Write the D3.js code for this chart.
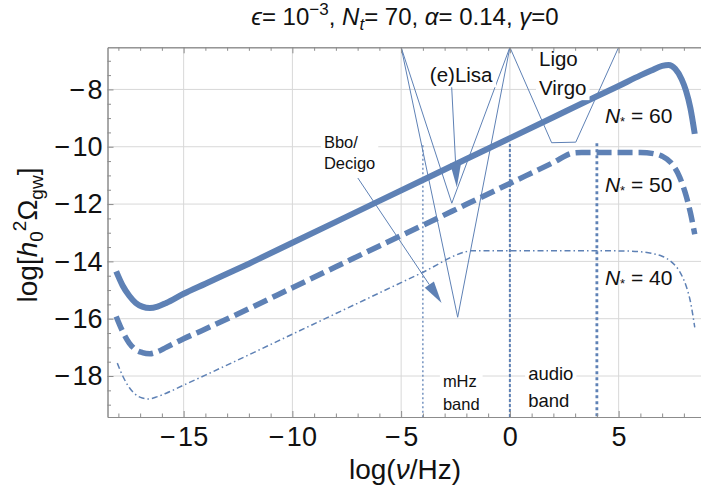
<!DOCTYPE html>
<html><head><meta charset="utf-8">
<script src="https://cdn.jsdelivr.net/npm/d3@7"></script>
<style>
html,body{margin:0;padding:0;background:#fff;}
svg{display:block;font-family:"Liberation Sans",Arial,sans-serif;}
text{white-space:pre;}
</style></head><body>
<svg id="chart" width="701" height="493"></svg>
<script>
// Gravitational-wave spectra: [log10(nu/Hz), log10(h0^2 Omega_gw)]
const spectrumN60 = [[-18.1,-14.35],[-17.8,-14.85],[-17.5,-15.2],[-17.2,-15.45],[-16.9,-15.58],[-16.55,-15.63],[-16.2,-15.58],[-15.8,-15.45],[-15,-15.13],[-14,-14.78],[-12,-14.08],[-10,-13.35],[-8,-12.62],[-6,-11.89],[-4,-11.16],[-2,-10.43],[0,-9.70],[2,-8.97],[4,-8.24],[5,-7.88],[6,-7.51],[6.5,-7.34],[7.0,-7.18],[7.3,-7.15],[7.6,-7.28],[7.9,-7.65],[8.1,-8.05],[8.3,-8.65],[8.5,-9.55]];
const spectrumN50 = [[-18.1,-15.92],[-17.8,-16.45],[-17.5,-16.85],[-17.2,-17.08],[-16.9,-17.18],[-16.55,-17.22],[-16.2,-17.15],[-15.8,-17.0],[-15,-16.7],[-14,-16.36],[-12,-15.65],[-10,-14.92],[-8,-14.19],[-6,-13.46],[-4,-12.74],[-2,-12.01],[0,-11.28],[2,-10.55],[2.9,-10.22],[3.3,-10.2],[5,-10.2],[6,-10.2],[6.6,-10.24],[7.0,-10.33],[7.4,-10.55],[7.8,-11.05],[8.1,-11.7],[8.3,-12.3],[8.5,-13.05]];
const spectrumN40 = [[-18.05,-17.55],[-17.8,-18.0],[-17.5,-18.4],[-17.2,-18.65],[-16.9,-18.77],[-16.6,-18.8],[-16.2,-18.72],[-15.8,-18.6],[-15,-18.32],[-14,-17.97],[-12,-17.26],[-10,-16.54],[-8,-15.82],[-6,-15.1],[-4,-14.38],[-2,-13.66],[-1.8,-13.63],[0,-13.63],[2,-13.63],[4,-13.63],[5.5,-13.64],[6.5,-13.72],[7.0,-13.82],[7.4,-14.0],[7.8,-14.35],[8.1,-14.85],[8.3,-15.4],[8.5,-16.3]];
const efoldNumbers = ["60", "50", "40"];

const xTicks = [-15, -10, -5, 0, 5];
const yTicks = [-18, -16, -14, -12, -10, -8];
const xMinorTicks = d3.range(-18, 9, 1).filter(v => v % 5 !== 0);
const yMinorTicks = d3.range(-19, -6.5, 0.5).filter(v => v % 2 !== 0);

// Detector sensitivity outlines (same axes as the spectra)
const lisaOutline = [[-5,-6.53],[-2.67,-11.97],[0,-6.53]];
const bboOutline  = [[-5,-6.53],[-2.4,-15.95],[0,-6.53]];
const ligoOutline = [[0,-6.53],[1.92,-9.86],[3.03,-9.84],[5,-6.53]];
const lisaPointer = [[-2.68,-7.85],[-2.44,-11.41]];
const bboPointer  = [[-6.99,-11.09],[-3.14,-15.45]];

// Frequency band edges and where their markers start
const bandEdges = [-4, 0, 4];
const bandEdgeTops = [-9.95, -9.9, -9.88];

const svg = d3.select("#chart");
const blue = "#5e81b5";
const x = d3.scaleLinear().domain([-18.5, 8.9]).range([107.5, 703.45]);
const y = d3.scaleLinear().domain([-19.43, -6.53]).range([417, 47.3]);
const [x0, x1] = x.range();
const [y0, y1] = y.range();

svg.append("defs").append("clipPath").attr("id", "plotClip")
  .append("rect").attr("x", x0).attr("y", y1).attr("width", x1 - x0).attr("height", y0 - y1);

// grid
const grid = svg.append("g").attr("stroke", "#d8d8d8").attr("stroke-width", 1);
grid.selectAll(".gx").data(xTicks).join("line")
  .attr("x1", d => x(d)).attr("x2", d => x(d)).attr("y1", y0).attr("y2", y1);
grid.selectAll(".gy").data(yTicks).join("line")
  .attr("x1", x0).attr("x2", x1).attr("y1", d => y(d)).attr("y2", d => y(d));

const plot = svg.append("g").attr("clip-path", "url(#plotClip)");

// band edge markers
const edgeStyles = [{w: 1.3, dash: "2,2.5"}, {w: 2, dash: "3,2"}, {w: 2.8, dash: "3,3"}];
plot.selectAll(".edge").data(bandEdges).join("line")
  .attr("x1", d => x(d)).attr("x2", d => x(d))
  .attr("y1", (d, i) => y(bandEdgeTops[i])).attr("y2", y0)
  .attr("stroke", blue)
  .attr("stroke-width", (d, i) => edgeStyles[i].w)
  .attr("stroke-dasharray", (d, i) => edgeStyles[i].dash);

// spectra
const line = d3.line().x(d => x(d[0])).y(d => y(d[1])).curve(d3.curveMonotoneX);
const spectra = [spectrumN60, spectrumN50, spectrumN40];
const specStyles = [{w: 6, dash: null}, {w: 5.5, dash: "15,6"}, {w: 1.5, dash: "6,3,1.5,3"}];
plot.selectAll(".spec").data(spectra).join("path")
  .attr("d", line)
  .attr("fill", "none")
  .attr("stroke", blue)
  .attr("stroke-width", (d, i) => specStyles[i].w)
  .attr("stroke-dasharray", (d, i) => specStyles[i].dash)
  .attr("stroke-linejoin", "round");

// sensitivity outlines
const outline = d3.line().x(d => x(d[0])).y(d => y(d[1]));
plot.selectAll(".det").data([lisaOutline, bboOutline, ligoOutline]).join("path")
  .attr("d", outline).attr("fill", "none").attr("stroke", blue).attr("stroke-width", 1);

// pointers with filled heads
function pointer(pts, len, half) {
  const p0 = [x(pts[0][0]), y(pts[0][1])], p1 = [x(pts[1][0]), y(pts[1][1])];
  const dx = p1[0] - p0[0], dy = p1[1] - p0[1], L = Math.hypot(dx, dy);
  const ux = dx / L, uy = dy / L;
  const bx = p1[0] - ux * len, by = p1[1] - uy * len;
  plot.append("line").attr("x1", p0[0]).attr("y1", p0[1]).attr("x2", bx).attr("y2", by)
    .attr("stroke", blue).attr("stroke-width", 1);
  plot.append("polygon")
    .attr("points", [[p1[0], p1[1]], [bx - uy * half, by + ux * half], [bx + uy * half, by - ux * half]].map(p => p.join(",")).join(" "))
    .attr("fill", blue);
}
pointer(lisaPointer, 24, 5.5);
pointer(bboPointer, 22, 5.5);

// rich text helper
function rich(sel, parts) {
  parts.forEach(p => {
    const t = sel.append("tspan").text(p.t);
    if (p.i) t.attr("font-style", "italic");
    if (p.s) t.attr("font-size", p.s);
    if (p.dy) t.attr("dy", p.dy);
  });
  return sel;
}

// boxed annotation labels
function boxedLabel(lines, xv, yvs, size) {
  const g = svg.append("g");
  const bg = g.append("rect").attr("fill", "#fff");
  const tg = g.append("g");
  lines.forEach((s, i) => {
    tg.append("text").attr("x", x(xv)).attr("y", y(yvs[i])).attr("font-size", size).attr("fill", "#111").text(s);
  });
  const b = tg.node().getBBox();
  bg.attr("x", b.x - 3).attr("y", b.y - 1).attr("width", b.width + 6).attr("height", b.height + 2);
}
boxedLabel(["Ligo", "Virgo"], 1.34, [-7.18, -8.2], 20.5);
boxedLabel(["(e)Lisa"], -3.68, [-7.75], 20.5);
boxedLabel(["Bbo/", "Decigo"], -8.55, [-10.06, -10.79], 16.5);
boxedLabel(["mHz", "band"], -3.08, [-18.37, -19.19], 16.5);
boxedLabel(["audio", "band"], 0.84, [-18.14, -19.07], 18.5);

// N_* labels
const nLabelY = [-9.17, -11.57, -14.82];
efoldNumbers.forEach((n, i) => {
  rich(svg.append("text").attr("x", x(4.37)).attr("y", y(nLabelY[i])).attr("font-size", 21).attr("fill", "#111"),
    [{t: "N", i: 1}, {t: "*", s: 13, dy: 3}, {t: " = " + n, dy: -3}]);
});

// frame and ticks
const minus = s => String(s).replace("-", "\u2212\u200a");
const frameColor = "#8c8c8c";
function styleAxis(g) {
  g.select(".domain").attr("stroke", frameColor);
  g.selectAll(".tick line").attr("stroke", frameColor);
  g.selectAll(".tick text").attr("fill", "#111").attr("font-size", 27).attr("font-family", "Liberation Sans, Arial, sans-serif");
}
svg.append("g").attr("transform", `translate(0,${y0})`)
  .call(d3.axisBottom(x).tickValues(xTicks).tickSize(-6).tickSizeOuter(0).tickPadding(10).tickFormat(minus))
  .call(styleAxis);
svg.append("g").attr("transform", `translate(0,${y0})`)
  .call(d3.axisBottom(x).tickValues(xMinorTicks).tickSize(-3.5).tickSizeOuter(0).tickFormat(""))
  .call(styleAxis);
svg.append("g").attr("transform", `translate(0,${y1})`)
  .call(d3.axisTop(x).tickValues(xTicks).tickSize(-6).tickSizeOuter(0).tickFormat(""))
  .call(styleAxis);
svg.append("g").attr("transform", `translate(0,${y1})`)
  .call(d3.axisTop(x).tickValues(xMinorTicks).tickSize(-3.5).tickSizeOuter(0).tickFormat(""))
  .call(styleAxis);
svg.append("g").attr("transform", `translate(${x0},0)`)
  .call(d3.axisLeft(y).tickValues(yTicks).tickSize(-6).tickSizeOuter(0).tickPadding(5).tickFormat(minus))
  .call(styleAxis);
svg.append("g").attr("transform", `translate(${x0},0)`)
  .call(d3.axisLeft(y).tickValues(yMinorTicks).tickSize(-3.5).tickSizeOuter(0).tickFormat(""))
  .call(styleAxis);

// title
rich(svg.append("text").attr("x", 405).attr("y", 25).attr("text-anchor", "middle").attr("font-size", 24).attr("fill", "#111"),
  [{t: "\u03f5", i: 1}, {t: "= 10"}, {t: "\u22123", s: 17, dy: -10}, {t: ", ", dy: 10},
   {t: "N", i: 1}, {t: "t", i: 1, s: 17, dy: 5}, {t: "= 70, ", dy: -5},
   {t: "\u03b1", i: 1}, {t: "= 0.14, "}, {t: "\u03b3", i: 1}, {t: "=0"}]);

// axis titles
rich(svg.append("text").attr("x", 405).attr("y", 479).attr("text-anchor", "middle").attr("font-size", 28).attr("fill", "#111"),
  [{t: "log("}, {t: "\u03bd", i: 1}, {t: "/Hz)"}]);
rich(svg.append("text").attr("transform", "translate(37,235) rotate(-90)").attr("text-anchor", "middle").attr("font-size", 28).attr("fill", "#111"),
  [{t: "log["}, {t: "h", i: 1}, {t: "0", s: 19, dy: 6}, {t: "2", s: 19, dy: -17}, {t: "\u03a9", dy: 11},
   {t: "gw", s: 19, dy: 6}, {t: "]", dy: -6}]);
</script>
</body></html>
